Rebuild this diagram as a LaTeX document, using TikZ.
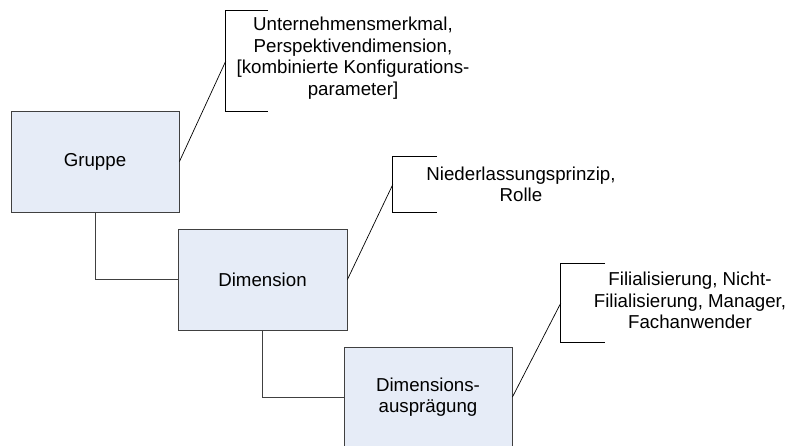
\documentclass[tikz,border=0pt]{standalone}
\usepackage{fontspec}
\setmainfont{Liberation Sans}
\definecolor{boxfill}{RGB}{230,236,247}
\definecolor{boxline}{RGB}{64,64,64}
\begin{document}
\begin{tikzpicture}[x=1pt,y=-1pt,
  box/.style={draw=boxline,fill=boxfill,line width=0.9pt,inner sep=0pt,
    font=\fontsize{18.7}{21.5}\selectfont,align=center},
  brk/.style={inner sep=0pt},
  note/.style={inner sep=0pt,font=\fontsize{18.7}{21.5}\selectfont,align=center},
  link/.style={draw=boxline,line width=0.9pt},
  call/.style={draw=black,line width=0.7pt}]
\useasboundingbox (0,0) rectangle (787,446);
\begin{scope}
\clip (0,0) rectangle (787,446);
% boxes
\node[box,minimum width=168pt,minimum height=101pt] (g) at (95,161.5) {Gruppe};
\node[box,minimum width=169pt,minimum height=101pt] (d) at (262.5,279.5) {Dimension};
\node[box,minimum width=168pt,minimum height=100pt] (a) at (428,397) {Dimensions-\\ausprägung};
% tree connectors
\draw[link] (g.south) |- (d.west);
\draw[link] (d.south) |- (a.west);
% callout brackets (invisible frames)
\node[brk,minimum width=42pt,minimum height=100pt] (b1) at (247,61) {};
\node[brk,minimum width=44pt,minimum height=55pt] (b2) at (415,184.5) {};
\node[brk,minimum width=44pt,minimum height=78pt] (b3) at (583,303) {};
\draw[call] (b1.north east) -- (b1.north west) -- (b1.south west) -- (b1.south east);
\draw[call] (b2.north east) -- (b2.north west) -- (b2.south west) -- (b2.south east);
\draw[call] (b3.north east) -- (b3.north west) -- (b3.south west) -- (b3.south east);
\draw[call] (g.east) -- (b1.west);
\draw[call] (d.east) -- (b2.west);
\draw[call] (a.east) -- (b3.west);
% callout texts
\node[note] (t1) at (353,58) {Unternehmensmerkmal,\\Perspektivendimension,\\{[}kombinierte Konfigurations-\\parameter{]}};
\node[note] (t2) at (521,184.5) {Niederlassungsprinzip,\\Rolle};
\node[note] (t3) at (690,300.5) {Filialisierung, Nicht-\\Filialisierung, Manager,\\Fachanwender};
\end{scope}
\end{tikzpicture}
\end{document}
